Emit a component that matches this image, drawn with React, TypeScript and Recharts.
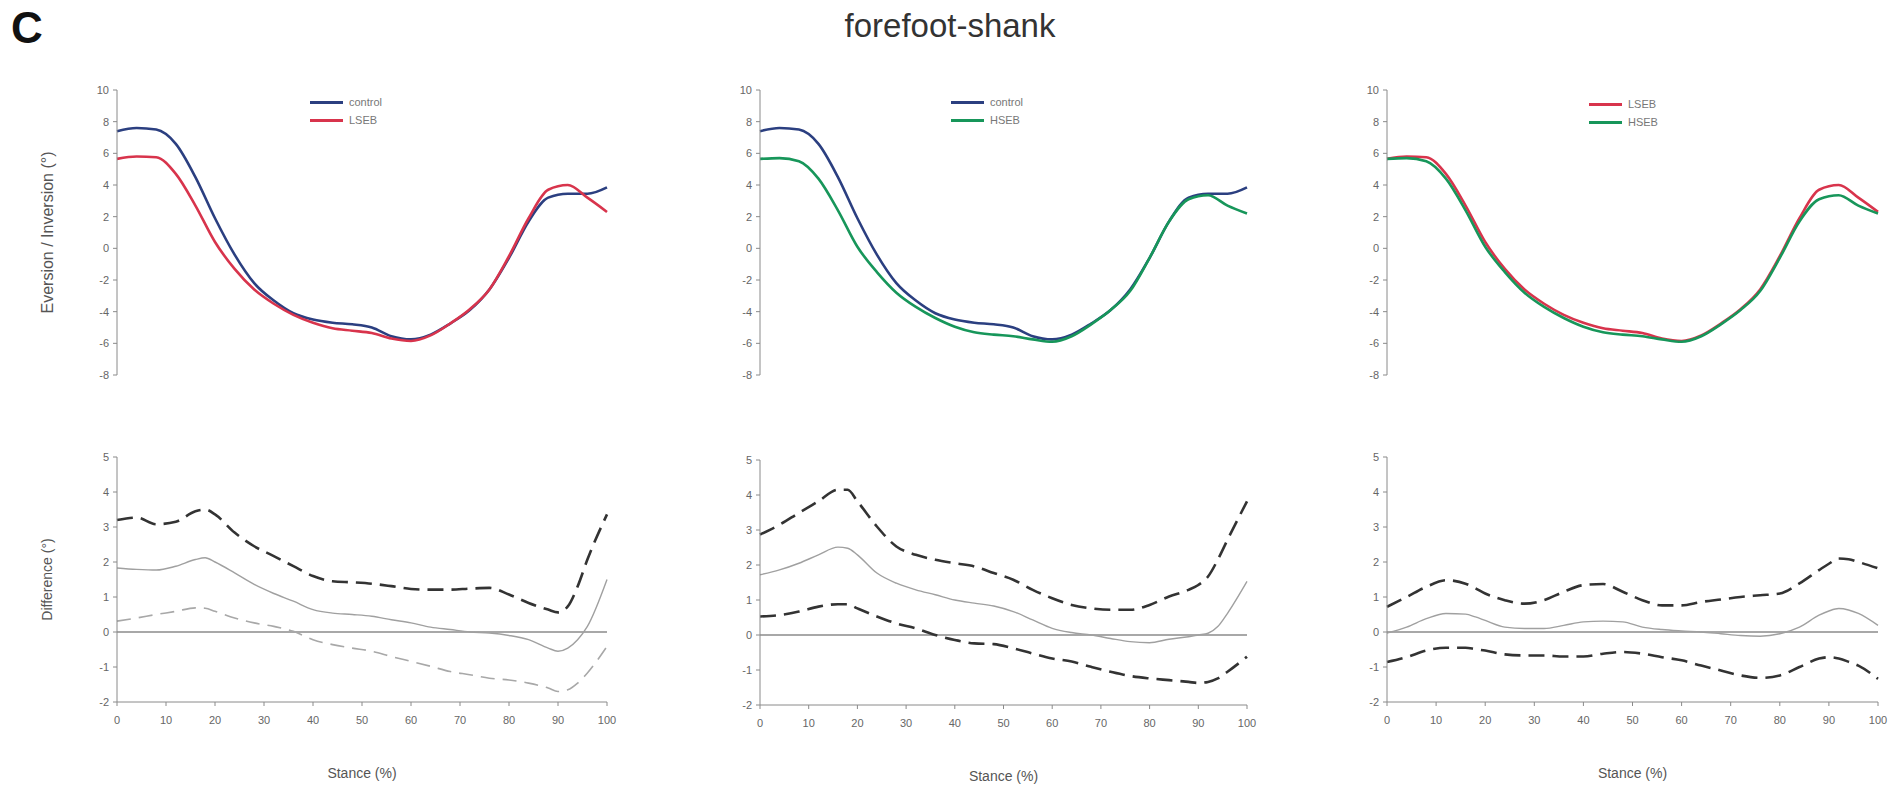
import { LineChart, Line, XAxis, YAxis, ReferenceLine, Legend } from 'recharts';

// ─── Angle curves (top row) ─────────────────────────────────────────
const stance = [0, 4, 8, 12, 16, 20, 24, 28, 32, 36, 40, 44, 48, 52, 56, 60, 64, 68, 72, 76, 80, 84, 88, 92, 96, 100];
const control = [7.4, 7.6, 7.5, 6.6, 4.5, 1.9, -0.4, -2.2, -3.3, -4.1, -4.5, -4.7, -4.8, -5.0, -5.55, -5.75, -5.45, -4.75, -3.9, -2.6, -0.6, 1.7, 3.2, 3.45, 3.45, 3.85];
const lseb = [5.65, 5.8, 5.75, 4.7, 2.7, 0.4, -1.3, -2.6, -3.5, -4.2, -4.7, -5.05, -5.2, -5.35, -5.7, -5.85, -5.5, -4.75, -3.85, -2.6, -0.5, 1.9, 3.7, 4.0, 3.2, 2.3];
const hseb = [5.65, 5.7, 5.5, 4.4, 2.4, 0.1, -1.5, -2.8, -3.7, -4.4, -4.95, -5.3, -5.45, -5.55, -5.75, -5.9, -5.55, -4.8, -3.9, -2.7, -0.6, 1.7, 3.1, 3.35, 2.7, 2.2];

// ─── Differences with confidence bands (bottom row) ─────────────────
const diffStance = [0, 4, 8, 12, 16, 18, 20, 24, 28, 32, 36, 40, 44, 48, 52, 56, 60, 64, 68, 72, 76, 80, 84, 88, 90, 92, 94, 96, 100];
// control - LSEB
const upper1 = [3.2, 3.27, 3.08, 3.15, 3.45, 3.5, 3.36, 2.84, 2.45, 2.17, 1.88, 1.6, 1.45, 1.42, 1.38, 1.31, 1.23, 1.21, 1.21, 1.24, 1.26, 1.07, 0.83, 0.64, 0.56, 0.73, 1.3, 2.07, 3.36];
const mean1 = [1.83, 1.79, 1.77, 1.88, 2.07, 2.12, 2.0, 1.69, 1.36, 1.1, 0.88, 0.64, 0.54, 0.5, 0.45, 0.35, 0.26, 0.14, 0.07, 0.0, -0.03, -0.1, -0.22, -0.46, -0.55, -0.46, -0.22, 0.16, 1.5];
const lower1 = [0.31, 0.4, 0.5, 0.59, 0.69, 0.68, 0.59, 0.4, 0.26, 0.16, 0.02, -0.22, -0.36, -0.46, -0.55, -0.7, -0.84, -0.98, -1.13, -1.22, -1.32, -1.37, -1.46, -1.6, -1.7, -1.65, -1.46, -1.17, -0.41];
// control - HSEB
const upper2 = [2.87, 3.15, 3.49, 3.82, 4.15, 4.15, 3.82, 3.1, 2.53, 2.29, 2.15, 2.05, 1.96, 1.77, 1.58, 1.29, 1.05, 0.86, 0.76, 0.72, 0.72, 0.86, 1.1, 1.29, 1.43, 1.67, 2.15, 2.72, 3.82];
const mean2 = [1.72, 1.86, 2.05, 2.29, 2.51, 2.48, 2.29, 1.77, 1.48, 1.29, 1.15, 1.0, 0.91, 0.83, 0.67, 0.43, 0.19, 0.07, 0.0, -0.1, -0.19, -0.22, -0.12, -0.05, 0.0, 0.05, 0.24, 0.62, 1.53];
const lower2 = [0.53, 0.57, 0.67, 0.81, 0.88, 0.88, 0.76, 0.53, 0.33, 0.19, 0.0, -0.14, -0.24, -0.26, -0.38, -0.53, -0.67, -0.76, -0.91, -1.05, -1.17, -1.24, -1.29, -1.34, -1.37, -1.34, -1.24, -1.05, -0.62];
// LSEB - HSEB
const upper3 = [0.72, 1.0, 1.29, 1.48, 1.38, 1.25, 1.1, 0.91, 0.81, 0.91, 1.15, 1.34, 1.37, 1.15, 0.91, 0.76, 0.76, 0.86, 0.93, 1.0, 1.05, 1.1, 1.39, 1.77, 1.95, 2.1, 2.08, 2.0, 1.82];
const mean3 = [-0.03, 0.14, 0.38, 0.53, 0.51, 0.43, 0.33, 0.14, 0.1, 0.1, 0.19, 0.29, 0.31, 0.29, 0.14, 0.07, 0.03, 0.0, -0.05, -0.1, -0.12, -0.05, 0.14, 0.48, 0.6, 0.67, 0.63, 0.53, 0.19];
const lower3 = [-0.86, -0.72, -0.53, -0.45, -0.45, -0.49, -0.53, -0.64, -0.67, -0.67, -0.7, -0.7, -0.62, -0.57, -0.62, -0.72, -0.81, -0.96, -1.1, -1.24, -1.31, -1.24, -1.0, -0.76, -0.72, -0.76, -0.85, -0.96, -1.34];

const angleTicks = [-8, -6, -4, -2, 0, 2, 4, 6, 8, 10];
const diffTicks = [-2, -1, 0, 1, 2, 3, 4, 5];
const stanceTicks = [0, 10, 20, 30, 40, 50, 60, 70, 80, 90, 100];

const COLORS: Record<string, string> = {
  control: '#2b3f80',
  LSEB: '#d8344c',
  HSEB: '#17965a',
};

const FONT = '"Liberation Sans", Arial, sans-serif';
const AXIS = '#8a8a8a';
const TICK = { fill: '#666', fontSize: 11, fontFamily: FONT };
const AXIS_W = 80;

const angleRows = stance.map((s, i) => ({ stance: s, control: control[i], LSEB: lseb[i], HSEB: hseb[i] }));

function diffRows(upper: number[], mean: number[], lower: number[]) {
  return diffStance.map((s, i) => ({ stance: s, upper: upper[i], mean: mean[i], lower: lower[i] }));
}

function LegendBox({ payload, order }: { payload?: Array<{ value: string }>; order: string[] }) {
  if (!payload) return null;
  const items = [...payload].sort((a, b) => order.indexOf(a.value) - order.indexOf(b.value));
  return (
    <div style={{ fontFamily: FONT, fontSize: 11, color: '#777', lineHeight: '18px' }}>
      {items.map((p) => (
        <div key={p.value} style={{ display: 'flex', alignItems: 'center' }}>
          <span style={{ display: 'inline-block', width: 33, height: 3, background: COLORS[p.value], marginRight: 6 }} />
          {p.value}
        </div>
      ))}
    </div>
  );
}

// ─── Top row: joint angle ───────────────────────────────────────────
function AnglePanel({ plotLeft, plotRight, plotTop, plotBottom, series, legendX, legendTop, yLabel }: {
  plotLeft: number; plotRight: number; plotTop: number; plotBottom: number;
  series: string[]; legendX: number; legendTop: number; yLabel?: string;
}) {
  const w = AXIS_W + (plotRight - plotLeft) + 10;
  const h = 10 + (plotBottom - plotTop) + 10;
  return (
    <div style={{ position: 'absolute', left: plotLeft - AXIS_W, top: plotTop - 10 }}>
      <LineChart width={w} height={h} data={angleRows} margin={{ top: 10, right: 10, bottom: 10, left: 0 }}>
        <XAxis dataKey="stance" type="number" domain={[0, 100]} hide />
        <YAxis
          width={AXIS_W}
          domain={[-8, 10]}
          ticks={angleTicks}
          interval={0}
          tick={TICK}
          tickSize={4}
          tickMargin={4}
          stroke={AXIS}
          label={yLabel ? { value: yLabel, angle: -90, position: 'insideLeft', offset: 10, style: { textAnchor: 'middle', fill: '#555', fontSize: 16, fontFamily: FONT } } : undefined}
        />
        <Legend
          layout="vertical"
          content={<LegendBox order={series} />}
          wrapperStyle={{ left: AXIS_W + legendX, top: legendTop, width: 'auto' }}
        />
        {series.map((k) => (
          <Line key={k} dataKey={k} name={k} type="monotone" stroke={COLORS[k]} strokeWidth={2.6} dot={false} isAnimationActive={false} />
        ))}
      </LineChart>
    </div>
  );
}

// ─── Bottom row: differences ────────────────────────────────────────
function DiffPanel({ plotLeft, plotRight, plotTop, plotBottom, rows, lightLower, yLabel }: {
  plotLeft: number; plotRight: number; plotTop: number; plotBottom: number;
  rows: Array<Record<string, number>>; lightLower?: boolean; yLabel?: string;
}) {
  const w = AXIS_W + (plotRight - plotLeft) + 14;
  const h = 10 + (plotBottom - plotTop) + 80;
  return (
    <div style={{ position: 'absolute', left: plotLeft - AXIS_W, top: plotTop - 10 }}>
      <LineChart width={w} height={h} data={rows} margin={{ top: 10, right: 14, bottom: 0, left: 0 }}>
        <XAxis
          dataKey="stance"
          type="number"
          domain={[0, 100]}
          ticks={stanceTicks}
          interval={0}
          height={80}
          tick={TICK}
          tickSize={4}
          tickMargin={10}
          stroke={AXIS}
          label={{ value: 'Stance (%)', position: 'insideBottom', offset: 4, style: { fill: '#555', fontSize: 14, fontFamily: FONT } }}
        />
        <YAxis
          width={AXIS_W}
          domain={[-2, 5]}
          ticks={diffTicks}
          interval={0}
          tick={TICK}
          tickSize={4}
          tickMargin={4}
          stroke={AXIS}
          label={yLabel ? { value: yLabel, angle: -90, position: 'insideLeft', offset: 10, style: { textAnchor: 'middle', fill: '#555', fontSize: 14, fontFamily: FONT } } : undefined}
        />
        <ReferenceLine y={0} stroke="#a8a8a8" strokeWidth={2.2} />
        <Line dataKey="mean" type="monotone" stroke="#a0a0a0" strokeWidth={1.4} dot={false} isAnimationActive={false} />
        <Line dataKey="upper" type="monotone" stroke="#333" strokeWidth={2.6} strokeDasharray="16 8" dot={false} isAnimationActive={false} />
        <Line
          dataKey="lower"
          type="monotone"
          stroke={lightLower ? '#a8a8a8' : '#333'}
          strokeWidth={lightLower ? 1.6 : 2.6}
          strokeDasharray={lightLower ? '14 8' : '16 8'}
          dot={false}
          isAnimationActive={false}
        />
      </LineChart>
    </div>
  );
}

export default function App() {
  return (
    <div style={{ position: 'absolute', left: 0, top: 0, width: 1901, height: 787, background: '#fff', fontFamily: FONT }}>
      <div style={{ position: 'absolute', left: 11, top: 3, fontSize: 44, fontWeight: 'bold', color: '#111' }}>C</div>
      <div style={{ position: 'absolute', left: 0, width: 1900, top: 7, textAlign: 'center', fontSize: 33, color: '#333' }}>forefoot-shank</div>

      <AnglePanel plotLeft={117} plotRight={607} plotTop={90} plotBottom={411} series={['control', 'LSEB']} legendX={193} legendTop={13} yLabel="Eversion / Inversion (°)" />
      <AnglePanel plotLeft={760} plotRight={1247} plotTop={90} plotBottom={411} series={['control', 'HSEB']} legendX={191} legendTop={13} />
      <AnglePanel plotLeft={1387} plotRight={1878} plotTop={90} plotBottom={411} series={['LSEB', 'HSEB']} legendX={202} legendTop={15} />

      <DiffPanel plotLeft={117} plotRight={607} plotTop={457} plotBottom={702} rows={diffRows(upper1, mean1, lower1)} lightLower yLabel="Difference (°)" />
      <DiffPanel plotLeft={760} plotRight={1247} plotTop={460} plotBottom={705} rows={diffRows(upper2, mean2, lower2)} />
      <DiffPanel plotLeft={1387} plotRight={1878} plotTop={457} plotBottom={702} rows={diffRows(upper3, mean3, lower3)} />
    </div>
  );
}
